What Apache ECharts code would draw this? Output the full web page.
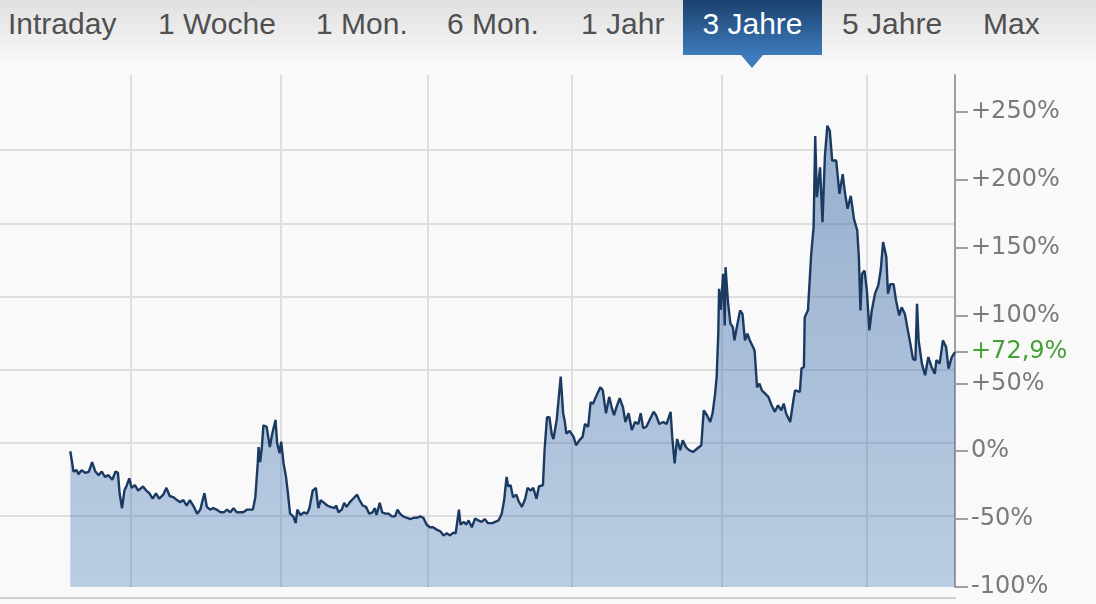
<!DOCTYPE html>
<html>
<head>
<meta charset="utf-8">
<script src="https://cdn.jsdelivr.net/npm/echarts@6/dist/echarts.min.js"></script>
<style>
html,body{margin:0;padding:0;background:#f9f9f9;width:1096px;height:604px;overflow:hidden;}
#tabs{position:absolute;left:0;top:0;width:1096px;height:72px;background:linear-gradient(#e0e0e0,#f9f9f9 64px);font-family:"Liberation Sans",Arial,sans-serif;}
.tab{position:absolute;top:0;font-size:30px;line-height:48px;color:#505050;white-space:nowrap;}
.tab.active{background:linear-gradient(#1c416e,#3d7bbb);color:#fff;height:55px;text-align:center;}
#arrow{position:absolute;top:55px;width:0;height:0;border-left:11px solid transparent;border-right:11px solid transparent;border-top:13px solid #3d7bbb;}
#chart{position:absolute;left:0;top:0;width:1096px;height:604px;}
</style>
</head>
<body>
<div id="tabs"></div>
<div id="chart"></div>
<script>
// ---- data ----
const tabLabels = ["Intraday", "1 Woche", "1 Mon.", "6 Mon.", "1 Jahr", "3 Jahre", "5 Jahre", "Max"];
const activeTab = "3 Jahre";
// days since start of the 3-year window
const days = [0,4,8,10,14,19,23,27,31,35,39,43,47,52,56,59,61,64,67,70,73,76,80,84,90,94,98,102,106,110,115,119,123,128,132,136,140,144,148,153,157,161,163,166,169,173,177,181,186,190,194,198,202,206,210,214,219,
226,229,232,233,235,237,239,243,247,250,254,256,259,261,264,267,269,272,276,279,281,285,289,293,296,300,304,307,310,314,318,322,327,329,332,336,339,342,346,350,355,358,362,366,370,374,377,379,383,386,390,394,398,402,405,408,412,416,421,425,429,
433,437,441,445,449,454,458,462,466,470,474,477,481,483,487,490,493,497,501,505,509,513,517,522,526,530,534,537,540,542,545,548,552,555,559,563,566,570,573,577,580,585,587,590,593,596,598,602,607,610,612,614,618,623,626,630,634,637,641,644,647,652,656,659,
663,667,670,673,676,680,684,687,691,695,699,703,706,709,713,717,722,725,729,734,738,743,745,748,751,755,758,762,766,771,776,781,784,788,792,795,798,800,802,803,805,808,810,811,814,817,820,822,825,829,832,835,838,841,845,847,850,853,856,860,864,868,872,876,880,883,886,891,
895,897,903,905,908,909,913,917,920,922,924,928,931,934,937,940,943,948,952,956,959,962,966,970,974,976,978,980,983,986,989,992,996,1000,1003,1006,1010,1012,1015,1019,1022,1026,1029,1033,1036,1039,1043,1046,1048,1050,1054,1058,1062,1066,1070,1072,1076,1080,1084,1087,1091,1093,1095];
// performance in %
const pct = [0,-15,-14,-17,-14,-16,-15,-8,-15,-17.6,-15,-19,-17.6,-21,-15,-16,-31,-42,-29,-25,-20,-27,-25,-29,-26,-29,-31,-35,-31,-35,-32,-27,-33,-34,-36,-37.5,-36,-40,-36,-41,-46,-43,-38,-31,-41,-43,-42,-43,-45,-45,-43,-45,-42,-45,-45,-45,-43,
-43,-34,-9,3,-8,2,19,18,3,13,23,6,-1.5,7,-9,-19,-29,-46,-48,-53,-43,-47,-45,-46,-42,-29,-27,-42,-36,-38,-40,-41,-42,-40,-45,-43,-38,-41,-37.5,-35,-32,-36,-40,-41,-46,-45,-42,-47,-38,-45,-46,-46,-48,-48,-43,-46,-48,-49,-50,-49,-49,
-48,-49,-54,-56,-56,-58,-59,-62,-60.5,-62,-60,-60.5,-43,-54,-52,-54,-51,-56,-49.5,-51,-52,-50,-53,-53,-52,-51,-46,-36,-19,-26,-25,-34,-32,-37,-41,-35,-27,-29,-27,-35,-26,-25,0.7,25,25,12,9,23,55,28,22,13,15,10.5,4.4,8,10.5,20,18,36,35,42,47,45,
28,40,32.5,26.5,32.5,39,32.5,21.5,28,15.5,21.5,20,28,17,18,23,29,26.5,20,21.5,20,29,10.5,-9,9,0.7,8,3,0.7,-0.5,2,4.4,30,26.5,21.5,28,42,54.6,86.5,119.6,104,130.6,92.6,135.5,110,94,91.4,81.6,91.4,103.7,101,81.6,86.5,81.6,76.7,74,47,49.8,44.8,42.4,40,33.8,29,33.8,30,35,27.7,21.5,
37.5,44.8,43.6,60.8,62,98.7,103.7,145,165,232,187,209,168.6,217.6,239.7,236,214,214,189.5,204,189.5,178.5,188,171,162.5,143,103.7,130.6,133,118,89,103.7,116,122,133,154,143,116,123,123,111,100,106,101,91,81.6,68,67,108.6,81.6,64.5,55.9,69.3,62,57,67,64.5,81.6,76.7,60.8,69.3,70.6,72.9];
const yTicks = [-100, -50, 0, 50, 100, 150, 200, 250];
const lastValue = 72.9;
// half-year markers (days)
const halfYearMarks = [75, 260, 443, 621, 806, 986];

// ---- tabs (layout) ----
const tabLeft = [8, 158, 316, 447, 581, 683, 842, 983];
const tabsEl = document.getElementById('tabs');
tabLabels.forEach((t, i) => {
  const s = document.createElement('div');
  s.className = 'tab' + (t === activeTab ? ' active' : '');
  s.textContent = t;
  s.style.left = tabLeft[i] + 'px';
  if (t === activeTab) {
    s.style.width = '139px';
    const a = document.createElement('div');
    a.id = 'arrow';
    a.style.left = (tabLeft[i] + 58) + 'px';
    tabsEl.appendChild(a);
  }
  tabsEl.appendChild(s);
});

// ---- chart ----
const chart = echarts.init(document.getElementById('chart'), null, {renderer: 'canvas'});
const seriesData = days.map((d, i) => [d, pct[i]]);
const fmt = v => {
  if (Math.abs(v - lastValue) < 1e-6) return '{g|+' + String(lastValue).replace('.', ',') + '%}';
  return (v > 0 ? '+' : '') + v + '%';
};
const gridColor = '#dedede';
chart.setOption({
  animation: false,
  grid: [
    {left: 0, right: 141, top: 75, bottom: 17},
    {left: 0, right: 141, top: 77, bottom: 15}
  ],
  xAxis: [
    {type: 'value', gridIndex: 0, min: -87, max: 1095, offset: 11,
     axisLine: {show: true, onZero: false, lineStyle: {color: '#cfcfcf', width: 2}},
     axisTick: {show: false}, axisLabel: {show: false}, splitLine: {show: false}},
    {type: 'value', gridIndex: 1, min: 0, max: 1, show: false},
    {type: 'value', gridIndex: 0, min: -87, max: 1095,
     axisLine: {show: false}, axisLabel: {show: false},
     axisTick: {show: false, customValues: halfYearMarks},
     splitLine: {show: true, lineStyle: {color: gridColor, width: 2}}}
  ],
  yAxis: [
    {type: 'value', gridIndex: 0, position: 'right', min: -100, max: 277,
     axisLine: {show: true, onZero: false, lineStyle: {color: '#a0a0a0', width: 2}},
     axisTick: {show: true, inside: false, length: 13, customValues: yTicks.concat([lastValue]), lineStyle: {color: '#a0a0a0', width: 2}},
     axisLabel: {customValues: yTicks.concat([lastValue]), margin: 16, formatter: fmt,
       fontFamily: 'DejaVu Sans', fontSize: 24, color: '#7a7a7a',
       rich: {g: {color: '#45a035', fontFamily: 'DejaVu Sans', fontSize: 24}}},
     splitLine: {show: false}},
    {type: 'value', gridIndex: 1, min: 0, max: 7, interval: 1,
     axisLine: {show: false}, axisTick: {show: false}, axisLabel: {show: false},
     splitLine: {show: true, showMinLine: false, showMaxLine: false, lineStyle: {color: gridColor, width: 2}}}
  ],
  series: [{
    type: 'line', xAxisIndex: 0, yAxisIndex: 0, data: seriesData,
    symbol: 'none', silent: true,
    lineStyle: {color: '#1b3a62', width: 2.4},
    areaStyle: {origin: 'start', color: {type: 'linear', x: 0, y: 75, x2: 0, y2: 588, global: true,
      colorStops: [{offset: 0, color: 'rgba(35,85,150,0.68)'}, {offset: 1, color: 'rgba(45,105,175,0.44)'}]}}
  }]
});
</script>
</body>
</html>
